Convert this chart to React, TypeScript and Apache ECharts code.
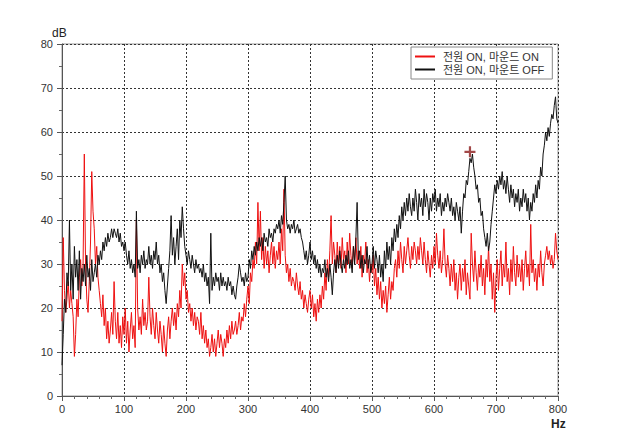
import React, { useEffect, useRef } from "react";
import * as echarts from "echarts";

// Frequency resolution of the sampled spectra (Hz between points)
const FREQ_STEP_HZ = 2;

// 전원 ON, 마운드 ON (red), values in dB from 0 Hz to 800 Hz
const RED_ON: number[] = [
  17, 36, 24, 19, 22, 26, 20, 24, 21, 18,
  9, 14, 22, 18, 27, 31, 25, 30, 55, 30,
  22, 19, 26, 35, 51, 42, 38, 30, 34, 27,
  24, 21, 18, 23, 16, 20, 13, 17, 12, 15,
  19, 14, 26, 17, 13, 19, 12, 16, 11, 18,
  14, 20, 12, 17, 10, 15, 19, 13, 16, 11,
  40, 20, 15, 18, 14, 22, 16, 19, 15, 17,
  27, 18, 14, 20, 16, 13, 19, 15, 12, 17,
  14, 10, 16, 12, 9, 15, 18, 13, 17, 20,
  16, 19, 15, 21, 18, 24, 20, 30, 25, 28,
  22, 24, 19, 21, 17, 20, 16, 19, 15, 18,
  17, 14, 19, 13, 16, 12, 15, 11, 13, 9,
  11, 14, 10, 13, 9, 12, 15, 11, 14, 12,
  9, 13, 11, 15, 12, 16, 13, 17, 14, 15,
  17, 14, 16, 19, 15, 18, 17, 21, 18, 22,
  25, 21, 28, 26, 31, 29, 35, 30, 44, 33,
  42, 31, 36, 29, 34, 30, 33, 28, 32, 35,
  30, 34, 29, 33, 31, 35, 30, 38, 33, 47,
  32, 28, 30, 26, 29, 25, 27, 26, 24, 28,
  25, 23, 26, 22, 24, 20, 23, 21, 19, 22,
  24, 20, 23, 18, 21, 17, 22, 19, 23, 20,
  25, 22, 28, 24, 31, 27, 33, 41, 30, 35,
  32, 28, 35, 30, 34, 29, 36, 31, 33, 28,
  35, 30, 37, 32, 29, 34, 31, 36, 30, 33,
  29, 34, 27, 32, 30, 35, 28, 31, 26, 30,
  28, 32, 25, 29, 23, 27, 22, 26, 20, 24,
  21, 25, 19, 23, 27, 22, 26, 24, 29, 31,
  27, 33, 29, 35, 31, 28, 34, 30, 33, 36,
  32, 29, 34, 31, 35, 33, 30, 34, 31, 36,
  33, 30, 35, 31, 28, 33, 30, 27, 32, 29,
  34, 30, 37, 32, 29, 33, 28, 31, 38, 30,
  27, 32, 29, 25, 30, 26, 31, 24, 28, 22,
  27, 30, 24, 29, 26, 31, 23, 28, 25, 22,
  37, 30, 26, 33, 28, 24, 30, 27, 32, 25,
  29, 23, 31, 27, 34, 26, 30, 22, 28, 19,
  27, 31, 24, 29, 33, 25, 30, 27, 35, 26,
  29, 23, 31, 26, 34, 28, 25, 32, 27, 30,
  26, 31, 24, 29, 33, 27, 30, 25, 39, 28,
  31, 26, 29, 24, 30, 27, 33, 28, 25, 30,
  32, 34, 31, 33, 30, 32, 29, 31, 37, 33,
  31,
];

// 전원 ON, 마운트 OFF (black), values in dB from 0 Hz to 800 Hz
const BLACK_OFF: number[] = [
  7, 14, 22, 19, 28, 25, 40, 24, 30, 22,
  34, 27, 31, 24, 33, 22, 29, 26, 30, 25,
  32, 27, 29, 24, 31, 26, 28, 30, 27, 32,
  30, 33, 31, 35, 33, 36, 34, 37, 35, 36,
  38, 36, 38, 37, 36, 38, 35, 37, 34, 35,
  33, 35, 32, 30, 33, 29, 31, 28, 30, 27,
  42, 29, 31, 28, 32, 30, 33, 29, 31, 30,
  34, 30, 32, 29, 33, 31, 35, 30, 32, 28,
  30, 26, 28, 24, 21, 25, 29, 33, 41, 32,
  36, 30, 34, 38, 31, 40, 36, 43, 38, 34,
  32, 30, 33, 31, 29, 32, 30, 28, 31, 29,
  30, 28, 29, 27, 30, 26, 28, 25, 27, 21,
  37, 24, 27, 25, 28, 26, 27, 24, 28, 25,
  27, 25, 26, 24, 27, 25, 26, 23, 25, 23,
  22, 25, 27, 30, 28, 26, 27, 25, 28, 26,
  27, 31, 29, 33, 31, 34, 32, 35, 33, 36,
  34, 36, 33, 37, 35, 36, 34, 38, 36, 37,
  35, 38, 37, 39, 38, 40, 37, 41, 39, 44,
  50, 40, 38, 39, 37, 39, 38, 40, 37, 38,
  39, 37, 38, 36, 35, 33, 31, 33, 30, 32,
  35, 31, 33, 30, 32, 29, 31, 28, 30, 27,
  29, 28, 31, 27, 29, 26, 30, 27, 23, 28,
  31, 28, 32, 29, 33, 30, 28, 31, 29, 32,
  30, 33, 29, 31, 28, 34, 30, 36, 44, 31,
  33, 29, 32, 28, 31, 30, 34, 29, 32, 28,
  30, 34, 29, 33, 31, 28, 32, 27, 30, 26,
  33, 29, 35, 31, 34, 30, 36, 33, 38, 35,
  39, 36, 41, 38, 43, 40, 44, 41, 45, 42,
  46, 43, 41, 45, 42, 47, 44, 40, 46, 43,
  45, 41, 47, 43, 46, 44, 40, 45, 42, 46,
  44, 47, 42, 45, 43, 46, 41, 44, 42, 45,
  43, 46, 44, 42, 45, 41, 43, 40, 44, 42,
  40, 43, 37, 42, 46, 45, 49, 48, 51, 54,
  53, 55, 52, 50, 47, 48, 44, 45, 41, 42,
  38, 36, 34, 37, 33, 35, 39, 42, 45, 48,
  46, 49, 47, 50, 48, 51, 47, 49, 46, 50,
  47, 44, 48, 45, 47, 43, 46, 44, 47, 42,
  45, 43, 47, 44, 46, 42, 45, 40, 44, 42,
  46, 44, 48, 45, 49, 47, 52, 50, 55, 57,
  60, 58, 61, 59, 62, 64, 63, 66, 68, 63,
  62,
];

// Peak marker (+) : [Hz, dB]
const PEAK_MARK: [number, number][] = [[658, 55.5]];

const SERIES_NAMES = ["전원 ON, 마운드 ON", "전원 ON, 마운트 OFF"];
const X_AXIS_NAME = "Hz";
const Y_AXIS_NAME = "dB";

const FONT = "'Liberation Sans', 'Noto Sans CJK KR', sans-serif";

export default function App() {
  const ref = useRef<HTMLDivElement>(null);

  useEffect(() => {
    if (!ref.current) return;
    const chart = echarts.init(ref.current, undefined, { renderer: "svg" });
    const toPairs = (vals: number[]) => vals.map((v, i) => [i * FREQ_STEP_HZ, v]);

    const axisCommon = {
      type: "value" as const,
      axisLine: { show: true, lineStyle: { color: "#555", width: 1 } },
      axisTick: { show: true, length: 5, lineStyle: { color: "#555" } },
      minorTick: { show: true, splitNumber: 5, length: 3, lineStyle: { color: "#666" } },
      axisLabel: { color: "#333", fontSize: 11, fontFamily: FONT },
      splitLine: { show: true, lineStyle: { color: "#333", width: 1, type: [2, 2] as any } },
    };

    chart.setOption({
      animation: false,
      backgroundColor: "#fff",
      grid: {
        left: 62,
        right: 62,
        top: 44,
        bottom: 43,
        show: true,
        borderColor: "#999",
        borderWidth: 1,
        backgroundColor: "transparent",
      },
      legend: {
        data: SERIES_NAMES,
        orient: "vertical",
        left: 411,
        top: 47,
        padding: [3, 8, 3, 4],
        itemGap: 0,
        itemWidth: 20,
        itemHeight: 2,
        icon: "rect",
        backgroundColor: "#fff",
        borderColor: "#888",
        borderWidth: 1,
        borderRadius: 0,
        textStyle: { color: "#333", fontSize: 11, fontFamily: FONT, lineHeight: 13, padding: [0, 0, 0, 3] },
      },
      xAxis: {
        ...axisCommon,
        min: 0,
        max: 800,
        interval: 100,
        axisLabel: { ...axisCommon.axisLabel, margin: 7 },
      },
      yAxis: {
        ...axisCommon,
        min: 0,
        max: 80,
        interval: 10,
        minorTick: { show: true, splitNumber: 2, length: 3, lineStyle: { color: "#666" } },
        axisLabel: { ...axisCommon.axisLabel, margin: 9 },
      },
      graphic: [
        {
          type: "text",
          left: 52,
          top: 27,
          style: { text: Y_AXIS_NAME, fill: "#222", font: `12px ${FONT}` },
        },
        {
          type: "text",
          left: 551,
          top: 418,
          style: { text: X_AXIS_NAME, fill: "#222", font: `bold 12px ${FONT}` },
        },
      ],
      series: [
        {
          name: SERIES_NAMES[0],
          type: "line",
          data: toPairs(RED_ON),
          showSymbol: false,
          symbol: "none",
          color: "#ee1111",
          lineStyle: { color: "#ee1111", width: 1 },
          z: 2,
        },
        {
          name: SERIES_NAMES[1],
          type: "line",
          data: toPairs(BLACK_OFF),
          showSymbol: false,
          symbol: "none",
          color: "#111",
          lineStyle: { color: "#111", width: 1 },
          z: 3,
        },
        {
          name: "peak",
          type: "scatter",
          data: PEAK_MARK,
          symbol: "path://M4,0h2v4h4v2h-4v4h-2v-4h-4v-2h4z",
          symbolSize: 11,
          itemStyle: { color: "#8b1a1a" },
          silent: true,
          z: 5,
        },
      ],
    });

    return () => chart.dispose();
  }, []);

  return (
    <div
      ref={ref}
      style={{ position: "fixed", left: 0, top: 0, width: 620, height: 439, background: "#fff" }}
    />
  );
}
